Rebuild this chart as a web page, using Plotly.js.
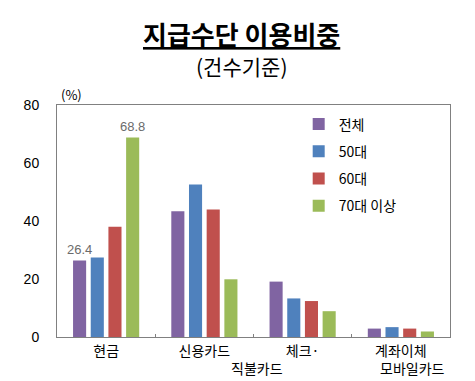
<!DOCTYPE html>
<html>
<head>
<meta charset="utf-8">
<script src="https://cdn.plot.ly/plotly-3.0.1.min.js"></script>
<style>html,body{margin:0;padding:0;background:#fff;}#chart{width:475px;height:381px;}</style>
</head>
<body>
<div id="chart"></div>
<script>
// Categories (full names) and the tick text as printed in the reference
var categories = ["현금", "신용카드", "체크·직불카드", "계좌이체 모바일카드"];
var tickLine1 = ["현금", "신용카드", "체크·", "계좌이체"];

// Series values (%)
var seriesNames = ["전체", "50대", "60대", "70대 이상"];
var valTotal = [26.4, 43.4, 19.1, 2.9];
var val50s   = [27.4, 52.6, 13.3, 3.4];
var val60s   = [38.0, 44.0, 12.4, 2.9];
var val70s   = [68.8, 19.9, 8.9, 1.9];

// Data labels shown in the reference
var lblTotal = ["26.4", "", "", ""];
var lbl70s   = ["68.8", "", "", ""];

var colors = ["#8064A2", "#4F81BD", "#C0504D", "#9BBB59"];
var KR = "'Noto Sans CJK KR', sans-serif";

function bar(name, y, color, text, grp) {
  return {
    type: "bar", name: name, x: categories, y: y,
    marker: {color: color},
    text: text, textposition: "outside", cliponaxis: false, constraintext: "none",
    textfont: {family: "'Liberation Sans', Arial, sans-serif", size: 13, color: "#6b6b6b"},
    legendgroup: grp, hoverinfo: "x+y"
  };
}

var data = [
  bar(seriesNames[0], valTotal, colors[0], lblTotal, "a"),
  bar(seriesNames[1], val50s, colors[1], ["", "", "", ""], "b"),
  bar(seriesNames[2], val60s, colors[2], ["", "", "", ""], "c"),
  bar(seriesNames[3], val70s, colors[3], lbl70s, "d")
];

var layout = {
  width: 475, height: 381,
  margin: {l: 57, r: 25, t: 105, b: 44},
  paper_bgcolor: "#fff", plot_bgcolor: "#fff",
  barmode: "group", bargap: 0.28, bargroupgap: 0.26,
  showlegend: true,
  legend: {
    x: 0.615, y: 0.985, xanchor: "left", yanchor: "top",
    traceorder: "grouped", tracegroupgap: 6,
    font: {family: KR, size: 14, color: "#000"},
    bgcolor: "rgba(0,0,0,0)", itemwidth: 30
  },
  xaxis: {
    type: "category",
    tickvals: categories, ticktext: tickLine1,
    tickson: "boundaries", ticks: "inside", ticklen: 3, tickcolor: "#808080",
    showline: true, linecolor: "#808080", linewidth: 1, mirror: true,
    showgrid: false, zeroline: false,
    tickfont: {family: KR, size: 14, color: "#000"},
    ticklabelstandoff: 1,
    fixedrange: true
  },
  yaxis: {
    range: [0, 80], dtick: 20, tick0: 0,
    showline: true, linecolor: "#808080", linewidth: 1, mirror: true,
    showgrid: false, zeroline: false, ticks: "",
    tickfont: {family: "'Liberation Sans', Arial, sans-serif", size: 14, color: "#000"},
    ticklabelstandoff: 14,
    fixedrange: true
  },
  annotations: [
    {text: "<b><u>지급수단 이용비중</u></b>", xref: "paper", yref: "paper", x: 0.47, y: 1, yshift: 72,
     xanchor: "center", yanchor: "middle", showarrow: false,
     font: {family: KR, size: 26, color: "#000"}},
    {text: "(건수기준)", xref: "paper", yref: "paper", x: 0.47, y: 1, yshift: 39,
     xanchor: "center", yanchor: "middle", showarrow: false,
     font: {family: KR, size: 21, color: "#000"}},
    {text: "(%)", xref: "paper", yref: "paper", x: 0, y: 1, xshift: 2, yshift: 11,
     xanchor: "left", yanchor: "middle", showarrow: false,
     font: {family: KR, size: 13, color: "#000"}},
    {text: "직불카드", xref: "x", yref: "paper", x: 1.535, y: 0, yshift: -31,
     xanchor: "center", yanchor: "middle", showarrow: false,
     font: {family: KR, size: 14, color: "#000"}},
    {text: "모바일카드", xref: "x", yref: "paper", x: 3.116, y: 0, yshift: -31,
     xanchor: "center", yanchor: "middle", showarrow: false,
     font: {family: KR, size: 14, color: "#000"}}
  ]
};

Plotly.newPlot("chart", data, layout, {displayModeBar: false, staticPlot: true});
</script>
</body>
</html>
